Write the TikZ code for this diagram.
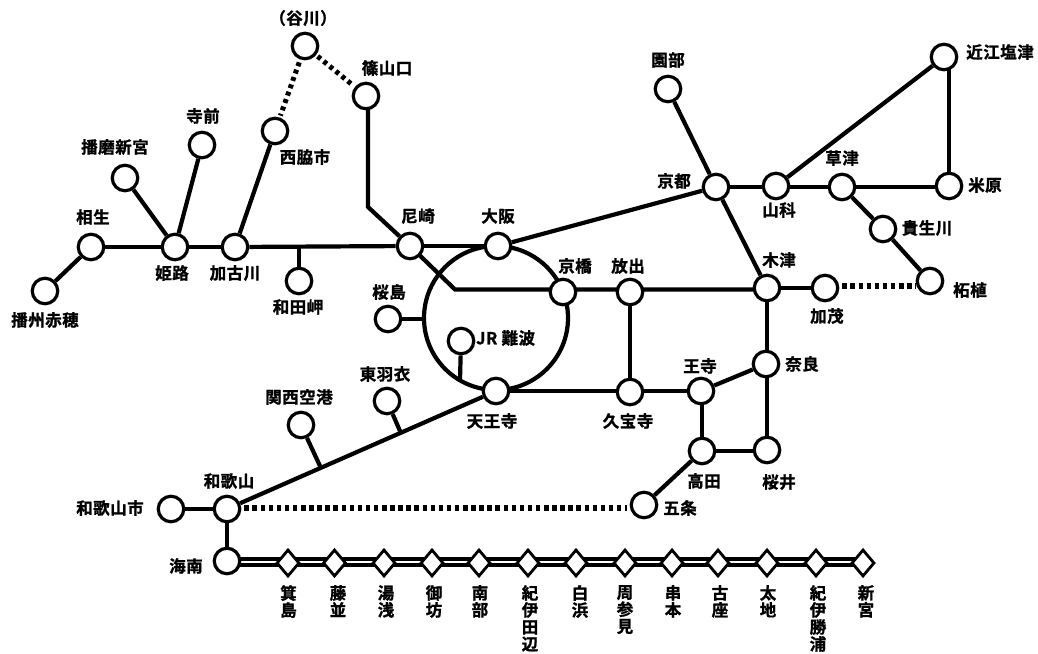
\documentclass[tikz,border=0pt]{standalone}
\usepackage{fontspec}
\setmainfont{Noto Sans CJK JP}[BoldFont={Noto Sans CJK JP Bold},BoldFeatures={FakeBold=1.2,LetterSpace=3}]
\usetikzlibrary{shapes.geometric,backgrounds}
\tikzset{
  st/.style={circle,draw=black,fill=white,line width=3.2pt,minimum size=25.5pt,inner sep=0pt},
  dia/.style={diamond,draw=black,fill=white,line width=2.8pt,minimum width=23pt,minimum height=27pt,inner sep=0pt,aspect=0.85},
  lb/.style={inner sep=0pt,font=\fontsize{16.5}{17}\selectfont\bfseries,text=black},
  vl/.style={lb,align=center,anchor=north},
  ln/.style={draw=black,line width=4.2pt},
  dot/.style={draw=black,line width=5.5pt,dash pattern=on 4.5pt off 3.6pt},
  dotb/.style={draw=black,line width=5pt,dash pattern=on 4pt off 3.8pt}
}
\begin{document}
\begin{tikzpicture}[x=1pt,y=-1pt]
\useasboundingbox (0,0) rectangle (1038,653);
% stations
\node[st] (aioi) at (91,247) {};
\node[st] (ako) at (45,291) {};
\node[st] (himeji) at (175,247) {};
\node[st] (shingu) at (125,178) {};
\node[st] (teramae) at (202,145) {};
\node[st] (kakogawa) at (235,247) {};
\node[st] (nishiwaki) at (275,131) {};
\node[st] (tanikawa) at (305,46) {};
\node[st] (sasayama) at (366,96) {};
\node[st] (wadamisaki) at (299,281) {};
\node[st] (amagasaki) at (410,246) {};
\node[st] (osaka) at (498,246) {};
\node[st] (sakurajima) at (388,319) {};
\node[st] (namba) at (461,341) {};
\node[st] (tennoji) at (496,391) {};
\node[st] (kyobashi) at (563,292) {};
\node[st] (hanaten) at (630,292) {};
\node[st] (kizu) at (767,288) {};
\node[st] (kamo) at (825,288) {};
\node[st] (tsuge) at (930,281) {};
\node[st] (kibukawa) at (883,229) {};
\node[st] (kusatsu) at (842,187) {};
\node[st] (maibara) at (949,186) {};
\node[st] (omi) at (944,57) {};
\node[st] (yamashina) at (776,186) {};
\node[st] (kyoto) at (716,187) {};
\node[st] (sonobe) at (668,89) {};
\node[st] (nara) at (766,364) {};
\node[st] (oji) at (701,391) {};
\node[st] (kyuhoji) at (630,392) {};
\node[st] (takada) at (702,451) {};
\node[st] (sakurai) at (767,450) {};
\node[st] (gojo) at (644,505) {};
\node[st] (wakayama) at (227,509) {};
\node[st] (wakayamashi) at (171,509) {};
\node[st] (kainan) at (227,561) {};
\node[st] (hagoromo) at (387,401) {};
\node[st] (kanku) at (301,425) {};
% Kisei line stations
\node[dia] (d1) at (288,563) {};
\node[dia] (d2) at (334.5,563) {};
\node[dia] (d3) at (384,563) {};
\node[dia] (d4) at (432,563) {};
\node[dia] (d5) at (479,563) {};
\node[dia] (d6) at (528,563) {};
\node[dia] (d7) at (576,563) {};
\node[dia] (d8) at (625,563) {};
\node[dia] (d9) at (672,563) {};
\node[dia] (d10) at (718,563) {};
\node[dia] (d11) at (767,563) {};
\node[dia] (d12) at (816,563) {};
\node[dia] (d13) at (863,563) {};
% junction points
\coordinate (jk) at (320,466);
\coordinate (jh) at (400,431);
\coordinate (jw) at (299,247);
\coordinate (js) at (368,207);
\coordinate (ja) at (455,289.5);
\coordinate (ringc) at (496,318);
\coordinate (jn) at (460,380);
\coordinate (jz) at (424,319);
\begin{pgfonlayer}{background}
\draw[ln] (ringc) circle[radius=72pt];
\draw[ln] (ako) -- (aioi);
\draw[ln] (aioi) -- (himeji);
\draw[ln] (shingu) -- (himeji);
\draw[ln] (teramae) -- (himeji);
\draw[ln] (himeji) -- (kakogawa);
\draw[ln] (nishiwaki) -- (kakogawa);
\draw[ln] (kakogawa) -- (amagasaki);
\draw[ln] (jw) -- (wadamisaki);
\draw[ln] ([xshift=2pt]sasayama.center) -- (js) -- (amagasaki);
\draw[ln] (amagasaki) -- (osaka);
\draw[ln] (amagasaki.center) -- (ja) -- (ja -| kizu);
\draw[ln] (osaka) -- (kyoto);
\draw[ln] (sakurajima) -- (jz);
\draw[ln] (namba) -- (jn);
\draw[ln] (hanaten) -- (hanaten |- kyuhoji);
\draw[ln] (tennoji.center) -- (tennoji -| oji);
\draw[ln] (oji) -- (nara);
\draw[ln] (oji -| takada) -- (takada);
\draw[ln] (takada) -- (takada -| sakurai);
\draw[ln] (sakurai.center) -- (sakurai |- nara);
\draw[ln] (takada) -- (gojo);
\draw[ln] (kizu.center) -- (kizu |- nara);
\draw[ln] (kizu) -- (kamo);
\draw[ln] (kyoto) -- (kizu);
\draw[ln] (sonobe) -- (kyoto);
\draw[ln] (kyoto.center) -- (kyoto -| maibara);
\draw[ln] (yamashina) -- (omi);
\draw[ln] (maibara) -- (maibara |- omi);
\draw[ln] (kusatsu) -- (kibukawa);
\draw[ln] (kibukawa) -- (tsuge);
\draw[ln] (tennoji) -- (wakayama);
\draw[ln] (kanku) -- (jk);
\draw[ln] (hagoromo) -- (jh);
\draw[ln] (wakayamashi) -- (wakayama);
\draw[ln] (wakayama) -- (kainan);
\draw[draw=black,line width=4.2pt] ([yshift=2pt]kainan.center) -- ([yshift=4pt]d13.center);
\draw[draw=black,line width=3.2pt] ([yshift=-4pt]kainan.center) -- ([yshift=-2pt]d13.center);
\end{pgfonlayer}
\draw[dot,shorten <=3pt,shorten >=3pt] ([yshift=1pt]wakayama.east) -- ([yshift=-3pt]gojo.west);
\draw[dot,shorten <=3pt,shorten >=0pt] ([yshift=2pt]kamo.east) -- ([yshift=-5pt]tsuge.west);
\draw[dotb,shorten <=3pt,shorten >=2pt] (tanikawa) -- (nishiwaki);
\draw[dotb,shorten <=2pt,shorten >=2pt] (tanikawa) -- (sasayama);
% labels
\node[lb] (l1) at (303,18) {（谷川）};
\node[lb] (l2) at (387,68) {篠山口};
\node[lb] (l3) at (203,116) {寺前};
\node[lb] (l4) at (305,157) {西脇市};
\node[lb] (l5) at (115,147) {播磨新宮};
\node[lb] (l6) at (93,217) {相生};
\node[lb] (l7) at (172,273) {姫路};
\node[lb] (l8) at (235,273) {加古川};
\node[lb] (l9) at (45,320) {播州赤穂};
\node[lb] (l10) at (298,307) {和田岬};
\node[lb] (l11) at (418,216) {尼崎};
\node[lb] (l12) at (498,216) {大阪};
\node[lb] (l13) at (389,292) {桜島};
\node[lb,anchor=west] (l14) at (476,338) {JR 難波};
\node[lb] (l15) at (575,266) {京橋};
\node[lb] (l16) at (628,266) {放出};
\node[lb] (l17) at (668,60) {園部};
\node[lb] (l18) at (674,181) {京都};
\node[lb] (l19) at (779,210) {山科};
\node[lb] (l20) at (842,158) {草津};
\node[lb] (l21) at (1000,52) {近江塩津};
\node[lb] (l22) at (985,185) {米原};
\node[lb] (l23) at (927,228) {貴生川};
\node[lb] (l24) at (779,260) {木津};
\node[lb] (l25) at (827,316) {加茂};
\node[lb] (l26) at (970,290) {柘植};
\node[lb] (l27) at (802,364) {奈良};
\node[lb] (l28) at (700,366) {王寺};
\node[lb] (l29) at (492,421) {天王寺};
\node[lb] (l30) at (628,421) {久宝寺};
\node[lb] (l31) at (385,374) {東羽衣};
\node[lb] (l32) at (299,397) {関西空港};
\node[lb] (l33) at (229,481) {和歌山};
\node[lb] (l34) at (110,508) {和歌山市};
\node[lb] (l35) at (186,566) {海南};
\node[lb] (l36) at (704,481) {高田};
\node[lb] (l37) at (779,482) {桜井};
\node[lb] (l38) at (680,508) {五条};
\node[vl] (v1) at (288.5,585) {箕\\島};
\node[vl] (v2) at (338,585) {藤\\並};
\node[vl] (v3) at (386,585) {湯\\浅};
\node[vl] (v4) at (434,585) {御\\坊};
\node[vl] (v5) at (480,585) {南\\部};
\node[vl] (v6) at (530,585) {紀\\伊\\田\\辺};
\node[vl] (v7) at (580,585) {白\\浜};
\node[vl] (v8) at (625,585) {周\\参\\見};
\node[vl] (v9) at (673,585) {串\\本};
\node[vl] (v10) at (720,585) {古\\座};
\node[vl] (v11) at (768,585) {太\\地};
\node[vl] (v12) at (818,585) {紀\\伊\\勝\\浦};
\node[vl] (v13) at (866,585) {新\\宮};
\end{tikzpicture}
\end{document}
